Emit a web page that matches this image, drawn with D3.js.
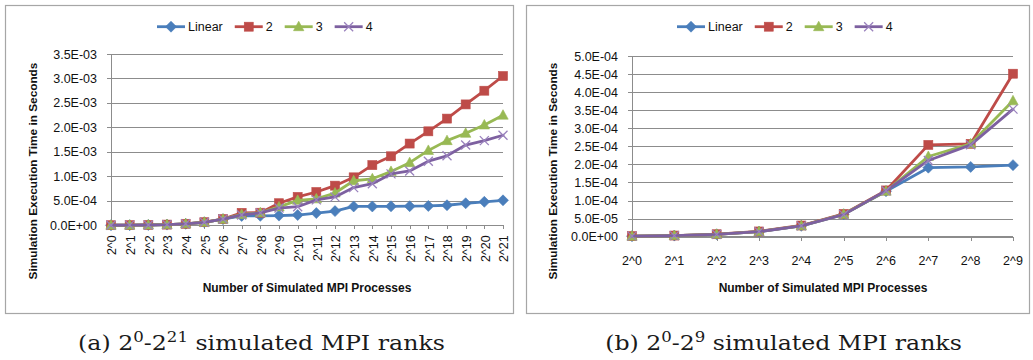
<!DOCTYPE html>
<html>
<head>
<meta charset="utf-8">
<script src="https://cdn.jsdelivr.net/npm/d3@7"></script>
<style>
  html, body { margin: 0; padding: 0; background: #fff; }
  svg { display: block; }
  text { font-family: "Liberation Sans", Arial, sans-serif; fill: #111; }
</style>
</head>
<body>
<svg id="fig" width="1033" height="360"></svg>
<script>
// ---- data: panel (a), 2^0 .. 2^21 simulated ranks ----
const categoriesA = ["2^0","2^1","2^2","2^3","2^4","2^5","2^6","2^7","2^8","2^9","2^10",
  "2^11","2^12","2^13","2^14","2^15","2^16","2^17","2^18","2^19","2^20","2^21"];
const linearA = [1.5e-6, 3.0e-6, 6.5e-6, 1.4e-5, 3.0e-5, 6.2e-5, 1.26e-4, 1.91e-4, 1.93e-4, 1.98e-4, 2.1e-4,
  2.5e-4, 2.9e-4, 3.85e-4, 3.85e-4, 3.87e-4, 3.9e-4, 3.95e-4, 4.1e-4, 4.5e-4, 4.8e-4, 5.1e-4];
const twoA = [1.6e-6, 3.2e-6, 6.8e-6, 1.45e-5, 3.1e-5, 6.3e-5, 1.28e-4, 2.54e-4, 2.57e-4, 4.51e-4, 5.8e-4,
  6.8e-4, 8.1e-4, 9.8e-4, 1.23e-3, 1.41e-3, 1.67e-3, 1.92e-3, 2.18e-3, 2.47e-3, 2.75e-3, 3.05e-3];
const threeA = [1.5e-6, 3.1e-6, 6.6e-6, 1.42e-5, 3.0e-5, 6.2e-5, 1.26e-4, 2.22e-4, 2.57e-4, 3.76e-4, 5.1e-4,
  5.4e-4, 6.6e-4, 9.1e-4, 9.5e-4, 1.1e-3, 1.28e-3, 1.53e-3, 1.73e-3, 1.88e-3, 2.05e-3, 2.25e-3];
const fourA = [1.5e-6, 3.0e-6, 6.5e-6, 1.4e-5, 3.0e-5, 6.1e-5, 1.27e-4, 2.11e-4, 2.54e-4, 3.53e-4, 3.8e-4,
  5.2e-4, 5.8e-4, 7.7e-4, 8.5e-4, 1.05e-3, 1.11e-3, 1.31e-3, 1.42e-3, 1.64e-3, 1.73e-3, 1.84e-3];
const yTicksA = [0, 5e-4, 1e-3, 1.5e-3, 2e-3, 2.5e-3, 3e-3, 3.5e-3];

// ---- data: panel (b), 2^0 .. 2^9 simulated ranks ----
const categoriesB = ["2^0","2^1","2^2","2^3","2^4","2^5","2^6","2^7","2^8","2^9"];
const linearB = [1.5e-6, 3.0e-6, 6.5e-6, 1.4e-5, 3.0e-5, 6.2e-5, 1.26e-4, 1.91e-4, 1.93e-4, 1.98e-4];
const twoB    = [1.6e-6, 3.2e-6, 6.8e-6, 1.45e-5, 3.1e-5, 6.3e-5, 1.28e-4, 2.54e-4, 2.57e-4, 4.51e-4];
const threeB  = [1.5e-6, 3.1e-6, 6.6e-6, 1.42e-5, 3.0e-5, 6.2e-5, 1.26e-4, 2.22e-4, 2.57e-4, 3.76e-4];
const fourB   = [1.5e-6, 3.0e-6, 6.5e-6, 1.4e-5, 3.0e-5, 6.1e-5, 1.27e-4, 2.11e-4, 2.54e-4, 3.53e-4];
const yTicksB = [0, 5e-5, 1e-4, 1.5e-4, 2e-4, 2.5e-4, 3e-4, 3.5e-4, 4e-4, 4.5e-4, 5e-4];

const seriesNames = ["Linear", "2", "3", "4"];
const seriesColors = ["#4a7ebb", "#be4b48", "#98b954", "#7d60a0"];
const markerShapes = ["diamond", "square", "triangle", "cross"];

const yTitle = "Simulation Execution Time in Seconds";
const xTitle = "Number of Simulated MPI Processes";

// Excel-style scientific labels, e.g. 3.5E-03
function sci(v) {
  const [m, e] = v.toExponential(1).split("e");
  const n = +e;
  return m + "E" + (n < 0 ? "-" : "+") + String(Math.abs(n)).padStart(2, "0");
}

const svg = d3.select("#fig");

function drawMarker(g, shape, x, y, color) {
  if (shape === "diamond") {
    g.append("path").attr("d", `M${x},${y-5.5}L${x+5.5},${y}L${x},${y+5.5}L${x-5.5},${y}Z`)
      .attr("fill", color).attr("stroke", color).attr("stroke-width", 0.6);
  } else if (shape === "square") {
    g.append("rect").attr("x", x - 4.5).attr("y", y - 4.5).attr("width", 9).attr("height", 9)
      .attr("fill", color).attr("stroke", color).attr("stroke-width", 0.6);
  } else if (shape === "triangle") {
    g.append("path").attr("d", `M${x},${y-5.5}L${x+5.2},${y+4}L${x-5.2},${y+4}Z`)
      .attr("fill", color).attr("stroke", color).attr("stroke-width", 0.6);
  } else {
    g.append("path").attr("d", `M${x-4.5},${y-4.5}L${x+4.5},${y+4.5}M${x-4.5},${y+4.5}L${x+4.5},${y-4.5}`)
      .attr("fill", "none").attr("stroke", "#9a82bd").attr("stroke-width", 1.3);
  }
}

// caption with superscript exponents, stretched to a fixed width
function caption(cx, width, parts) {
  const g = svg.append("g");
  const cap = g.append("text").attr("x", cx).attr("y", 350).attr("text-anchor", "middle")
    .style("font-family", "'DejaVu Serif', 'Liberation Serif', serif").style("font-size", "20px")
    .style("fill", "#1a1a1a");
  cap.append("tspan").text(parts[0] + " 2");
  cap.append("tspan").attr("dy", -8).style("font-size", "14px").text(parts[1]);
  cap.append("tspan").attr("dy", 8).text("-2");
  cap.append("tspan").attr("dy", -8).style("font-size", "14px").text(parts[2]);
  cap.append("tspan").attr("dy", 8).text(" simulated MPI ranks");
  const w = cap.node().getBBox().width;
  const k = width / w;
  g.attr("transform", `translate(${cx},0) scale(${k},1) translate(${-cx},0)`);
}

function panel(cfg) {
  const g = svg.append("g");
  // outer frame
  g.append("rect").attr("x", cfg.frame[0] + 0.5).attr("y", cfg.frame[1] + 0.5)
    .attr("width", cfg.frame[2]).attr("height", cfg.frame[3])
    .attr("fill", "#fff").attr("stroke", "#a6a6a6").attr("stroke-width", 1.2);

  const x = d3.scalePoint().domain(cfg.categories).range(cfg.xRange);
  const y = d3.scaleLinear().domain(cfg.yDomain).range(cfg.yRange);
  const x0 = cfg.xRange[0], x1 = cfg.xRange[1];

  // horizontal gridlines (extend left as outside tick marks)
  const yAxis = d3.axisLeft(y).tickValues(cfg.yTicks).tickFormat(sci)
    .tickSize(-(x1 - x0 + 4)).tickPadding(10);
  const ya = g.append("g").attr("transform", `translate(${x0 - 4},0)`).call(yAxis);
  ya.select(".domain").remove();
  ya.selectAll(".tick line").attr("stroke", "#8c8c8c").attr("stroke-width", 1)
    .attr("shape-rendering", "crispEdges");
  ya.selectAll(".tick text").style("font-size", "12.5px").attr("fill", "#111")
    .attr("x", -10).attr("font-family", "Liberation Sans, Arial, sans-serif");

  // vertical value axis line
  g.append("line").attr("x1", x0).attr("x2", x0).attr("y1", cfg.yRange[1]).attr("y2", cfg.yRange[0])
    .attr("stroke", "#8c8c8c").attr("shape-rendering", "crispEdges");

  // category axis with ticks at each point
  const xAxis = d3.axisBottom(x).tickSize(4).tickSizeOuter(0).tickFormat("");
  const xa = g.append("g").attr("transform", `translate(0,${cfg.yRange[0]})`).call(xAxis);
  xa.select(".domain").attr("stroke", "#8c8c8c").attr("d", `M${x0},0H${x1}`)
    .attr("shape-rendering", "crispEdges");
  xa.selectAll(".tick line").attr("stroke", "#8c8c8c").attr("shape-rendering", "crispEdges");

  // category labels
  const lab = g.append("g").selectAll("text").data(cfg.categories).join("text")
    .text(d => d).style("font-size", "12.5px");
  if (cfg.rotate) {
    lab.attr("transform", d => `translate(${x(d) + 1},${cfg.yRange[0] + 10}) rotate(-90)`)
      .attr("text-anchor", "end").attr("dy", "0.35em");
  } else {
    lab.attr("x", d => x(d)).attr("y", cfg.yRange[0] + 28).attr("text-anchor", "middle");
  }

  // series
  const line = d3.line().x((d, i) => x(cfg.categories[i])).y(d => y(d));
  cfg.series.forEach((vals, si) => {
    const sg = g.append("g");
    sg.append("path").datum(vals).attr("d", line).attr("fill", "none")
      .attr("stroke", seriesColors[si]).attr("stroke-width", 2.8)
      .attr("stroke-linejoin", "round").attr("stroke-linecap", "round");
    vals.forEach((v, i) => drawMarker(sg, markerShapes[si], x(cfg.categories[i]), y(v), seriesColors[si]));
  });

  // legend
  let lx = cfg.legendX;
  const ly = cfg.legendY;
  seriesNames.forEach((name, si) => {
    g.append("line").attr("x1", lx).attr("x2", lx + 28).attr("y1", ly).attr("y2", ly)
      .attr("stroke", seriesColors[si]).attr("stroke-width", 2.8);
    drawMarker(g, markerShapes[si], lx + 14, ly, seriesColors[si]);
    const t = g.append("text").attr("x", lx + 31).attr("y", ly).attr("dy", "0.36em")
      .style("font-size", "12.5px").text(name);
    lx += 31 + t.node().getComputedTextLength() + 12;
  });

  // axis titles
  g.append("text").attr("transform", `translate(${cfg.yTitleX},${cfg.yTitleY}) rotate(-90)`)
    .attr("text-anchor", "middle").attr("dy", "0.35em")
    .style("font-size", "11.8px").style("font-weight", "bold").text(yTitle);
  g.append("text").attr("x", cfg.xTitleX).attr("y", cfg.xTitleY).attr("text-anchor", "middle")
    .style("font-size", "12px").style("font-weight", "bold").text(xTitle);

  caption(cfg.captionX, cfg.captionW, cfg.caption);
}

panel({
  frame: [5, 5, 508, 308],
  categories: categoriesA,
  series: [linearA, twoA, threeA, fourA],
  yTicks: yTicksA,
  yDomain: [0, 3.5e-3],
  xRange: [111, 503],
  yRange: [225.3, 54],
  rotate: true,
  legendX: 157, legendY: 26.7,
  yTitleX: 33, yTitleY: 171,
  xTitleX: 307, xTitleY: 292,
  captionX: 261.5, captionW: 367,
  caption: ["(a)", "0", "21"]
});

panel({
  frame: [526, 5, 503, 308],
  categories: categoriesB,
  series: [linearB, twoB, threeB, fourB],
  yTicks: yTicksB,
  yDomain: [0, 5e-4],
  xRange: [632, 1013],
  yRange: [236.7, 56],
  rotate: false,
  legendX: 677, legendY: 26.7,
  yTitleX: 553, yTitleY: 171,
  xTitleX: 823, xTitleY: 292,
  captionX: 783.5, captionW: 357,
  caption: ["(b)", "0", "9"]
});
</script>
</body>
</html>
